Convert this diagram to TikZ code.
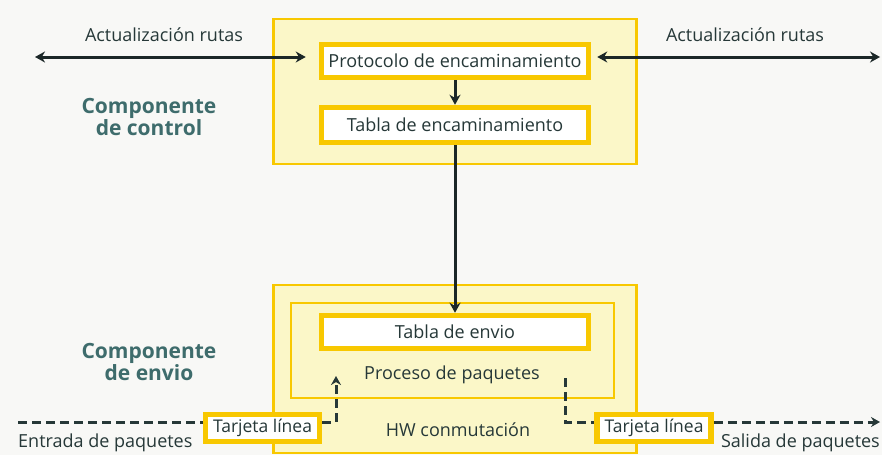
\documentclass[tikz,border=0pt]{standalone}
\usepackage{fontspec}
\setmainfont{Open Sans}
\usetikzlibrary{arrows.meta}
\definecolor{bgc}{HTML}{F8F8F6}
\definecolor{yline}{HTML}{F8C800}
\definecolor{yfill}{HTML}{FBF7C8}
\definecolor{txt}{HTML}{263838}
\definecolor{tealc}{HTML}{3E6C6C}
\tikzset{
  outerbox/.style={draw=yline, fill=yfill, line width=2.5pt, minimum width=363pt},
  innerbox/.style={draw=yline, fill=white, line width=5.5pt, minimum width=267pt, minimum height=33pt, text=txt, font=\fontsize{18}{20}\selectfont, inner sep=1pt},
  cardbox/.style={draw=yline, fill=white, line width=5.5pt, minimum width=114pt, minimum height=27pt, text=txt, font=\fontsize{17.5}{18}\selectfont, inner sep=1pt},
  lbl/.style={text=txt, font=\fontsize{18}{20}\selectfont, inner sep=0pt},
  comp/.style={text=tealc, font=\fontsize{21}{19}\selectfont\bfseries, align=center, inner sep=0pt},
  arr/.style={line width=3pt, txt!70!black, -{Stealth[length=10pt,width=11pt]}},
  darr/.style={line width=3pt, txt!70!black, {Stealth[length=10pt,width=11pt]}-{Stealth[length=10pt,width=11pt]}},
  dline/.style={line width=3pt, dash pattern=on 9pt off 5pt, txt},
  dlinearr/.style={dline, -{Stealth[length=9pt,width=10pt]}}
}
\begin{document}
\begin{tikzpicture}[x=1pt,y=-1pt]
\useasboundingbox (0,0) rectangle (882,455);
\fill[bgc] (0,0) rectangle (882,455);
% control component
\node[outerbox, minimum height=145pt] (ctrl) at (455,91.5) {};
\node[innerbox] (proto) at (455,61) {Protocolo de encaminamiento};
\node[innerbox, minimum height=35pt] (tenc) at (455,125) {Tabla de encaminamiento};
% forwarding component
\begin{scope}
\clip (0,0) rectangle (882,455);
\node[outerbox, minimum height=168pt] (fwd) at (455,369) {};
\end{scope}
\node[draw=yline, fill=yfill, line width=2.5pt, minimum width=323pt, minimum height=95pt] (proc) at (452.5,350.5) {};
\node[innerbox] (tenv) at (455,332) {Tabla de envio};
\node[lbl] (ptxt) at (452,375) {Proceso de paquetes};
\node[lbl] (hw) at (458,430) {HW conmutación};
\node[cardbox] (tl) at (262.5,428) {Tarjeta línea};
\node[cardbox] (tr) at (654,428) {Tarjeta línea};
% arrows
\draw[arr] (proto) -- (tenc);
\draw[arr] (tenc.south) -- (tenv.north);
\coordinate (al) at (35,57);
\coordinate (ar) at (880,57);
\draw[darr] (al) -- ([yshift=4pt,xshift=-13pt]proto.west);
\draw[darr] ([yshift=4pt,xshift=6pt]proto.east) -- (ar);
\node[lbl] (lu) at (164,35) {Actualización rutas};
\node[lbl] (ru) at (745,35) {Actualización rutas};
\node[comp] (cc) at (149,117) {Componente\\de control};
\node[comp] (ce) at (149,362) {Componente\\de envio};
% dashed paths
\coordinate (in0) at (18,422);
\coordinate (pl) at (336,376);
\coordinate (pr) at (565,378);
\coordinate (out0) at (880,422);
\draw[dline] (in0) -- (tl.west |- in0);
\draw[dlinearr] (tl.east |- in0) -| (pl);
\draw[dline] (pr) |- (tr.west |- out0);
\draw[dlinearr] (tr.east |- out0) -- (out0);
\node[lbl, anchor=west] (ent) at (18,443) {Entrada de paquetes};
\node[lbl, anchor=east] (sal) at (880,443) {Salida de paquetes};
\end{tikzpicture}
\end{document}
